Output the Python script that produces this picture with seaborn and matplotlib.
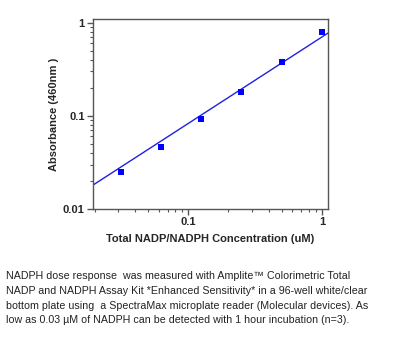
import numpy as np
import pandas as pd
import matplotlib
matplotlib.use("Agg")
import matplotlib.pyplot as plt
import seaborn as sns
from matplotlib.ticker import LogLocator, FixedLocator, FixedFormatter, NullFormatter

# Data
conc = [0.03125, 0.0625, 0.125, 0.25, 0.5, 1.0]
absorb = [0.0252, 0.0465, 0.093, 0.182, 0.374, 0.794]
fit_coef = 0.703
fit_exp = 0.929
x_ticks = [0.1, 1]
x_ticklabels = ["0.1", "1"]
y_ticks = [0.01, 0.1, 1]
y_ticklabels = ["0.01", "0.1", "1"]
xlabel = "Total NADP/NADPH Concentration (uM)"
ylabel = "Absorbance (460nm )"
caption = ("NADPH dose response  was measured with Amplite\u2122 Colorimetric Total\n"
           "NADP and NADPH Assay Kit *Enhanced Sensitivity* in a 96-well white/clear\n"
           "bottom plate using  a SpectraMax microplate reader (Molecular devices). As\n"
           "low as 0.03 \u00b5M of NADPH can be detected with 1 hour incubation (n=3).")

sns.set_theme(style="ticks")
plt.rcParams['font.family'] = ['Liberation Sans', 'DejaVu Sans']

fig = plt.figure(figsize=(4.0, 3.37), dpi=100)
ax = fig.add_axes([0.2325, 0.380, 0.5875, 0.564])

xlim = (0.0194, 1.11)
ylim = (0.01, 1.1)
fx = np.logspace(np.log10(xlim[0]), np.log10(xlim[1]), 50)
fy = fit_coef * fx ** fit_exp
line_df = pd.DataFrame({"x": fx, "y": fy})
pts_df = pd.DataFrame({"x": conc, "y": absorb})

sns.lineplot(data=line_df, x="x", y="y", ax=ax, color="#2020e0", linewidth=1.0)
sns.scatterplot(data=pts_df, x="x", y="y", ax=ax, marker="s", s=22, color="#0000ff",
                edgecolor="#0000ff", linewidth=0, zorder=3)

ax.set_xscale("log")
ax.set_yscale("log")
ax.set_xlim(*xlim)
ax.set_ylim(*ylim)

ax.xaxis.set_major_locator(FixedLocator(x_ticks))
ax.xaxis.set_major_formatter(FixedFormatter(x_ticklabels))
ax.yaxis.set_major_locator(FixedLocator(y_ticks))
ax.yaxis.set_major_formatter(FixedFormatter(y_ticklabels))
ax.xaxis.set_minor_locator(LogLocator(base=10, subs=np.arange(2, 10)))
ax.yaxis.set_minor_locator(LogLocator(base=10, subs=np.arange(2, 10)))
ax.xaxis.set_minor_formatter(NullFormatter())
ax.yaxis.set_minor_formatter(NullFormatter())

for sp in ax.spines.values():
    sp.set_color("#555555")
    sp.set_linewidth(1.0)
ax.tick_params(which="major", direction="out", length=4, width=1, color="#555555",
               labelsize=8, pad=2)
ax.tick_params(which="minor", direction="out", length=2, width=0.8, color="#555555")
for lab in ax.get_xticklabels() + ax.get_yticklabels():
    lab.set_fontweight("bold")

ax.set_xlabel(xlabel, fontsize=8, fontweight="bold", labelpad=5)
ax.set_ylabel(ylabel, fontsize=8, fontweight="bold", labelpad=3)

fig.text(0.015, 0.197, caption, fontsize=7.7, color="#222222", va="top", ha="left",
         linespacing=1.62)

fig.savefig("out.png", dpi=100, facecolor="white")
